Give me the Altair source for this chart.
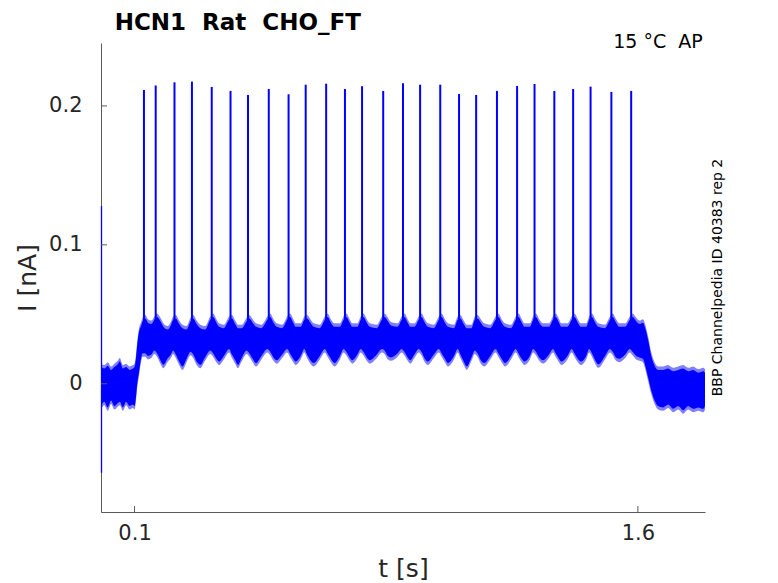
import altair as alt
import pandas as pd

# ---- data ----
spike_t = [0.128, 0.163, 0.219, 0.271, 0.330, 0.386, 0.438, 0.500, 0.559, 0.610,
           0.671, 0.727, 0.778, 0.841, 0.900, 0.951, 1.011, 1.067, 1.118, 1.180,
           1.240, 1.292, 1.351, 1.407, 1.459, 1.521, 1.580]
spike_peak = [0.2115, 0.2147, 0.2170, 0.2175, 0.2137, 0.2108, 0.2079, 0.2122, 0.2084, 0.2153,
              0.2160, 0.2122, 0.2142, 0.2108, 0.2163, 0.2153, 0.2153, 0.2086, 0.2079, 0.2108,
              0.2144, 0.2158, 0.2108, 0.2122, 0.2139, 0.2101, 0.2108]
spike_base = 0.035

env_t = [0.000, 0.010, 0.020, 0.030, 0.040, 0.050, 0.056, 0.065, 0.075, 0.085, 0.095, 0.100,
         0.104, 0.108, 0.113, 0.120, 0.124,
         0.132, 0.140, 0.150, 0.159,
         0.167, 0.177, 0.186, 0.198, 0.208, 0.215,
         0.223, 0.233, 0.243, 0.255, 0.267,
         0.275, 0.285, 0.296, 0.310, 0.326,
         0.334, 0.344, 0.352, 0.366, 0.382,
         0.390, 0.400, 0.408, 0.420, 0.434,
         0.442, 0.452, 0.462, 0.478, 0.496,
         0.504, 0.514, 0.524, 0.540, 0.555,
         0.563, 0.573, 0.580, 0.595, 0.606,
         0.614, 0.624, 0.634, 0.652, 0.667,
         0.675, 0.685, 0.696, 0.712, 0.723,
         0.731, 0.741, 0.749, 0.764, 0.774,
         0.782, 0.792, 0.801, 0.822, 0.837,
         0.845, 0.855, 0.864, 0.884, 0.896,
         0.904, 0.914, 0.922, 0.934, 0.947,
         0.955, 0.965, 0.974, 0.992, 1.007,
         1.015, 1.025, 1.034, 1.052, 1.063,
         1.071, 1.081, 1.090, 1.104, 1.114,
         1.122, 1.132, 1.142, 1.160, 1.176,
         1.184, 1.194, 1.204, 1.222, 1.236,
         1.244, 1.254, 1.262, 1.278, 1.288,
         1.296, 1.306, 1.318, 1.335, 1.347,
         1.355, 1.365, 1.372, 1.390, 1.403,
         1.411, 1.421, 1.430, 1.446, 1.455,
         1.463, 1.473, 1.482, 1.502, 1.517,
         1.525, 1.535, 1.545, 1.562, 1.576,
         1.584, 1.595, 1.605, 1.615, 1.622, 1.630, 1.640, 1.650,
         1.660, 1.675, 1.690, 1.705, 1.720, 1.735, 1.750, 1.765, 1.780, 1.795, 1.800]
env_hi = [0.012, 0.011, 0.013, 0.010, 0.012, 0.014, 0.016, 0.011, 0.012, 0.010, 0.011, 0.012,
          0.018, 0.028, 0.037, 0.042, 0.045,
          0.047, 0.044, 0.043, 0.046,
          0.048, 0.045, 0.041, 0.039, 0.042, 0.046,
          0.047, 0.043, 0.040, 0.039, 0.045,
          0.047, 0.043, 0.040, 0.039, 0.046,
          0.048, 0.044, 0.041, 0.040, 0.046,
          0.047, 0.043, 0.040, 0.040, 0.045,
          0.047, 0.044, 0.041, 0.040, 0.046,
          0.048, 0.044, 0.041, 0.040, 0.046,
          0.048, 0.044, 0.041, 0.041, 0.046,
          0.047, 0.044, 0.041, 0.040, 0.046,
          0.048, 0.044, 0.041, 0.041, 0.046,
          0.048, 0.044, 0.041, 0.041, 0.046,
          0.048, 0.044, 0.041, 0.040, 0.046,
          0.048, 0.045, 0.042, 0.041, 0.046,
          0.048, 0.044, 0.041, 0.041, 0.046,
          0.048, 0.044, 0.041, 0.040, 0.046,
          0.048, 0.044, 0.041, 0.040, 0.046,
          0.047, 0.043, 0.040, 0.040, 0.046,
          0.047, 0.044, 0.041, 0.040, 0.046,
          0.048, 0.044, 0.041, 0.040, 0.046,
          0.048, 0.044, 0.041, 0.041, 0.046,
          0.048, 0.044, 0.041, 0.041, 0.046,
          0.048, 0.044, 0.041, 0.041, 0.046,
          0.048, 0.044, 0.041, 0.041, 0.046,
          0.048, 0.044, 0.041, 0.040, 0.046,
          0.048, 0.044, 0.041, 0.041, 0.046,
          0.048, 0.045, 0.043, 0.044, 0.040, 0.032, 0.020, 0.013,
          0.010, 0.010, 0.011, 0.009, 0.010, 0.011, 0.009, 0.010, 0.008, 0.009, 0.008]
env_lo = [-0.016, -0.013, -0.017, -0.012, -0.016, -0.014, -0.013, -0.017, -0.013, -0.016, -0.015, -0.016,
          -0.010, 0.000, 0.008, 0.019, 0.022,
          0.022, 0.020, 0.021, 0.024,
          0.022, 0.017, 0.0137, 0.018, 0.021, 0.024,
          0.021, 0.016, 0.0125, 0.018, 0.023,
          0.021, 0.016, 0.0137, 0.019, 0.024,
          0.022, 0.018, 0.016, 0.020, 0.025,
          0.021, 0.017, 0.0137, 0.019, 0.024,
          0.022, 0.018, 0.015, 0.020, 0.025,
          0.023, 0.019, 0.017, 0.021, 0.025,
          0.022, 0.018, 0.016, 0.020, 0.025,
          0.021, 0.017, 0.015, 0.020, 0.025,
          0.022, 0.018, 0.015, 0.020, 0.025,
          0.023, 0.019, 0.017, 0.021, 0.025,
          0.023, 0.019, 0.017, 0.021, 0.025,
          0.024, 0.020, 0.019, 0.022, 0.025,
          0.023, 0.019, 0.017, 0.021, 0.025,
          0.023, 0.018, 0.016, 0.021, 0.025,
          0.022, 0.018, 0.015, 0.020, 0.025,
          0.021, 0.016, 0.0125, 0.019, 0.024,
          0.022, 0.017, 0.015, 0.020, 0.025,
          0.022, 0.018, 0.015, 0.020, 0.025,
          0.022, 0.018, 0.016, 0.020, 0.025,
          0.023, 0.019, 0.017, 0.021, 0.025,
          0.022, 0.018, 0.016, 0.020, 0.025,
          0.022, 0.018, 0.016, 0.020, 0.025,
          0.022, 0.017, 0.014, 0.020, 0.025,
          0.023, 0.019, 0.018, 0.021, 0.025,
          0.023, 0.020, 0.019, 0.018, 0.013, 0.005, -0.005, -0.012,
          -0.016, -0.017, -0.015, -0.018, -0.016, -0.019, -0.016, -0.018, -0.017, -0.018, -0.016]

transient_t = [0.0015]
transient_lo = [-0.064]
transient_hi = [0.128]

x_ticks = [0.1, 1.6]
y_ticks = [0, 0.1, 0.2]

NB = "\u00a0"
title_text = "HCN1" + NB + NB + "Rat" + NB + NB + "CHO_FT"
cond_text = "15" + NB + "°C" + NB + NB + "AP"
side_text = "BBP Channelpedia ID 40383 rep 2"

# ---- layout ----
W, H = 604, 469
FONT = "DejaVu Sans"
BLUE = "#0000FF"
AX = "#5a5a5a"
TXT = "#262626"
FRINGE = 0.0025

xs = alt.Scale(domain=[0, 1.8], nice=False, zero=False)
ys = alt.Scale(domain=[-0.0923, 0.2453], nice=False, zero=False)

env_df = pd.DataFrame({"t": env_t, "hi": env_hi, "lo": env_lo})
spk_df = pd.DataFrame({"t": spike_t, "peak": spike_peak, "base": [spike_base] * len(spike_t)})
tr_df = pd.DataFrame({"t": transient_t, "lo": transient_lo, "hi": transient_hi})

x_axis = alt.Axis(values=x_ticks, format=".1f", ticks=False, grid=False, domainColor=AX,
                  labelFont=FONT, labelFontSize=21, labelColor=TXT, labelPadding=10,
                  title="t [s]", titleFont=FONT, titleFontSize=25, titleFontWeight="normal",
                  titleColor=TXT, titlePadding=13)
y_axis = alt.Axis(values=y_ticks, labelExpr="datum.value == 0 ? '0' : format(datum.value, '.1f')",
                  ticks=False, grid=False, domainColor=AX,
                  labelFont=FONT, labelFontSize=21, labelColor=TXT, labelPadding=19,
                  title="I [nA]", titleFont=FONT, titleFontSize=25, titleFontWeight="normal",
                  titleColor=TXT, titlePadding=8)

fringe = alt.Chart(env_df).transform_calculate(
    fhi=f"datum.hi + {FRINGE}", flo=f"datum.lo - {FRINGE}"
).mark_area(color=BLUE, opacity=0.5, interpolate="monotone").encode(
    x=alt.X("t:Q", scale=xs, axis=x_axis),
    y=alt.Y("fhi:Q", scale=ys, axis=y_axis),
    y2="flo:Q",
)

band = alt.Chart(env_df).mark_area(color=BLUE, opacity=1, interpolate="monotone").encode(
    x="t:Q", y="hi:Q", y2="lo:Q",
)

spikes = alt.Chart(spk_df).mark_rule(color=BLUE, strokeWidth=2.0).encode(
    x="t:Q", y="base:Q", y2="peak:Q"
)

transient = alt.Chart(tr_df).mark_rule(color=BLUE, strokeWidth=1.3).encode(
    x="t:Q", y="lo:Q", y2="hi:Q"
)

xt = alt.Chart(pd.DataFrame({"v": x_ticks})).mark_rule(color=AX, strokeWidth=1).encode(
    x="v:Q", y=alt.value(H), y2=alt.value(H - 6)
)
yt = alt.Chart(pd.DataFrame({"v": y_ticks})).mark_rule(color=AX, strokeWidth=1).encode(
    y="v:Q", x=alt.value(0), x2=alt.value(6)
)

title = alt.Chart(pd.DataFrame({"s": [title_text]})).mark_text(
    font=FONT, fontSize=23, fontWeight="bold", color="black", align="left", baseline="alphabetic"
).encode(text="s:N", x=alt.value(13.7), y=alt.value(-13.5))

cond = alt.Chart(pd.DataFrame({"s": [cond_text]})).mark_text(
    font=FONT, fontSize=19, color="black", align="right", baseline="alphabetic"
).encode(text="s:N", x=alt.value(601.7), y=alt.value(5))

side = alt.Chart(pd.DataFrame({"s": [side_text]})).mark_text(
    font=FONT, fontSize=14, color="black", align="center", baseline="alphabetic", angle=270
).encode(text="s:N", x=alt.value(620.7), y=alt.value(234.5))

chart = alt.layer(fringe, band, spikes, transient, xt, yt, title, cond, side).properties(
    width=W, height=H,
    autosize=alt.AutoSizeParams(type="none"),
    padding={"left": 93, "top": 35, "right": 60, "bottom": 70},
    view=alt.ViewBackground(stroke="transparent", strokeWidth=0),
).configure_view(stroke="transparent", strokeWidth=0, strokeOpacity=0).configure(background="white")

chart.save("out.html", embed_options={"renderer": "svg", "actions": False})
